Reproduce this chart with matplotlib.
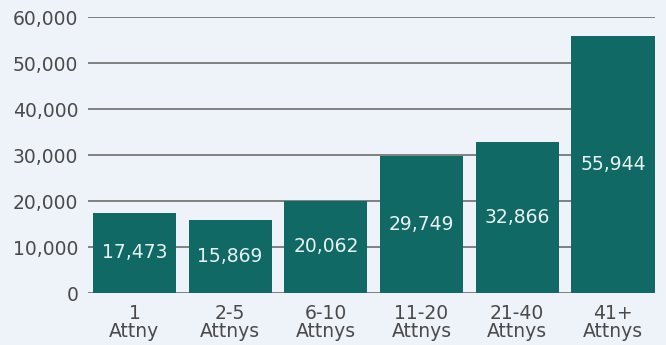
import matplotlib.pyplot as plt

# firm size buckets and counts
categories = ["1\nAttny", "2-5\nAttnys", "6-10\nAttnys", "11-20\nAttnys", "21-40\nAttnys", "41+\nAttnys"]
counts = [17473, 15869, 20062, 29749, 32866, 55944]
yticks = [0, 10000, 20000, 30000, 40000, 50000, 60000]

bg = "#eef2f9"
bar_color = "#106964"
grid_color = "#808080"
text_color = "#4a4a4a"

plt.rcParams["font.family"] = ["DejaVu Sans"]

fig = plt.figure(figsize=(6.66, 3.45), dpi=100, facecolor=bg)
ax = fig.add_axes([0.1321, 0.1507, 0.8514, 0.8])
ax.set_facecolor(bg)

x = range(len(categories))
bars = ax.bar(x, counts, width=0.87, color=bar_color, zorder=2)

for rect, val in zip(bars, counts):
    ax.text(rect.get_x() + rect.get_width() / 2, val / 2, f"{val:,}",
            ha="center", va="center", color="#e8f3f1", fontsize=13.5,
            zorder=3)

ax.set_ylim(0, 60000)
ax.set_xlim(-0.486, 5.44)
ax.set_yticks(yticks)
ax.set_yticklabels([f"{t:,}" for t in yticks])
for t in yticks:
    ax.axhline(t, color=grid_color, linewidth=1.4, zorder=1)

ax.set_xticks(list(x))
ax.set_xticklabels(categories, linespacing=0.9)
ax.tick_params(axis="both", length=0, labelsize=13.5, labelcolor=text_color)
ax.tick_params(axis="y", pad=7)
ax.tick_params(axis="x", pad=8)

for s in ax.spines.values():
    s.set_visible(False)

fig.savefig("out.png", dpi=100, facecolor=bg)
